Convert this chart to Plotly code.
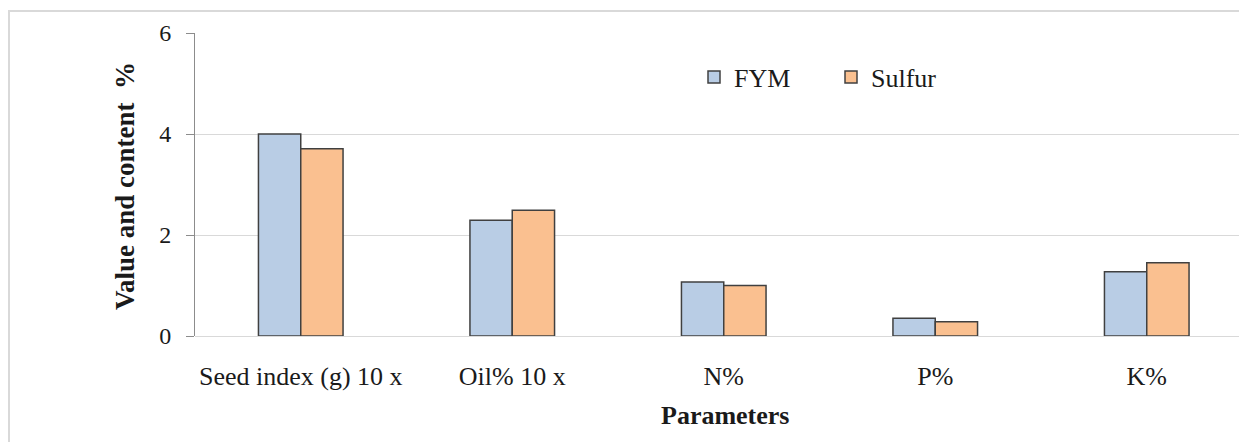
import plotly.graph_objects as go

categories = ["Seed index (g) 10 x", "Oil% 10 x", "N%", "P%", "K%"]
fym = [4.0, 2.29, 1.07, 0.35, 1.27]
sulfur = [3.71, 2.49, 1.00, 0.28, 1.45]
y_ticks = [0, 2, 4, 6]

OFF = 8  # page body margin
W, H = 1247 - OFF, 442 - OFF
L, T = 195 - OFF, 33 - OFF
R = 0
bottom = 336 - OFF
B = H - bottom
pw, ph = W - L - R, H - T - B

def px_x(p):  # page pixel -> paper
    return (p - OFF - L) / pw

def px_y(p):
    return (bottom - (p - OFF)) / ph

font_family = "Liberation Serif"

fig = go.Figure()
fig.add_trace(go.Bar(name="FYM", x=categories, y=fym,
                     marker=dict(color="#B9CDE5", line=dict(color="#404040", width=1.5))))
fig.add_trace(go.Bar(name="Sulfur", x=categories, y=sulfur,
                     marker=dict(color="#FAC090", line=dict(color="#404040", width=1.5))))

step = 211.5
xmax = -0.5 + pw / step

fig.update_layout(
    width=W, height=H,
    margin=dict(l=L, r=R, t=T, b=B),
    paper_bgcolor="white", plot_bgcolor="white",
    barmode="group", bargap=0.6, bargroupgap=0,
    font=dict(family=font_family, color="#1a1a1a"),
    showlegend=True,
    legend=dict(orientation="h", x=px_x(694), y=px_y(77), xanchor="left", yanchor="middle",
                font=dict(size=26, family=font_family, color="#1a1a1a"),
                bgcolor="rgba(0,0,0,0)", entrywidth=92),
    xaxis=dict(range=[-0.5, xmax], showgrid=False, showline=False, zeroline=False,
               ticks="", tickfont=dict(size=26, family=font_family, color="#1a1a1a"),
               ticklabelstandoff=22, fixedrange=True),
    yaxis=dict(range=[0, 6], tickvals=y_ticks, showgrid=True, gridcolor="#D9D9D9", gridwidth=1,
               zeroline=True, zerolinecolor="#D9D9D9", zerolinewidth=1,
               showline=True, linecolor="#8C8C8C", linewidth=1,
               ticks="outside", ticklen=8, tickcolor="#8C8C8C",
               tickfont=dict(size=24, family=font_family, color="#1a1a1a"),
               ticklabelstandoff=10, fixedrange=True),
    annotations=[
        dict(text="<b>Value and content  %</b>", textangle=-90, xref="paper", yref="paper",
             x=px_x(125), y=px_y(186), xanchor="center", yanchor="middle", showarrow=False,
             font=dict(size=27, family=font_family, color="#1a1a1a")),
        dict(text="<b>Parameters</b>", xref="paper", yref="paper",
             x=px_x(725), y=px_y(415), xanchor="center", yanchor="middle", showarrow=False,
             font=dict(size=26, family=font_family, color="#1a1a1a")),
    ],
    shapes=[
        dict(type="line", xref="paper", yref="paper", x0=px_x(OFF), x1=px_x(1247 + 5),
             y0=px_y(11), y1=px_y(11), line=dict(color="#D9D9D9", width=2)),
        dict(type="line", xref="paper", yref="paper", x0=px_x(OFF + 1), x1=px_x(OFF + 1),
             y0=px_y(11), y1=px_y(442 + 5), line=dict(color="#D9D9D9", width=2)),
    ],
)

fig.write_html("out.html")
